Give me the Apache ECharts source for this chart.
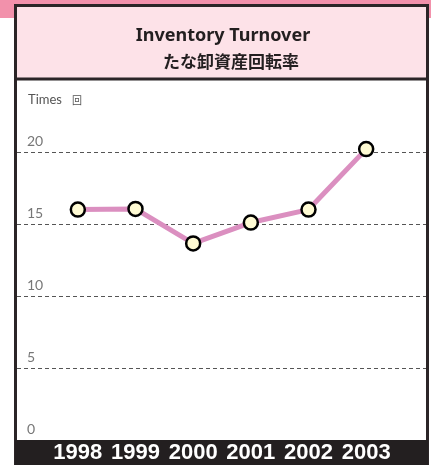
<!DOCTYPE html>
<html>
<head>
<meta charset="utf-8">
<script src="https://cdn.jsdelivr.net/npm/echarts@6/dist/echarts.min.js"></script>
<style>html,body{margin:0;padding:0;background:#fff;}#c{width:431px;height:465px;}</style>
</head>
<body>
<div id="c"></div>
<script>
const years = ['1998', '1999', '2000', '2001', '2002', '2003'];
const turnover = [16.0, 16.05, 13.65, 15.1, 16.0, 20.2];
const yTicks = { min: 0, max: 20, interval: 5 };
const titleEn = 'Inventory Turnover';
const titleJa = 'たな卸資産回転率';
const unitLabel = 'Times';
const unitJa = '回';

const chart = echarts.init(document.getElementById('c'), null, { renderer: 'canvas' });
chart.setOption({
  animation: false,
  backgroundColor: '#ffffff',
  graphic: [
    { type: 'rect', z: -20, shape: { x: 0, y: 0, width: 431, height: 18 }, style: { fill: '#f291ab' } },
    { type: 'rect', z: -19, shape: { x: 15.5, y: 5.5, width: 412, height: 462 }, style: { fill: '#ffffff', stroke: '#2b2527', lineWidth: 3 } },
    { type: 'rect', z: -18, shape: { x: 17, y: 7, width: 409, height: 71 }, style: { fill: '#fde2e8' } },
    { type: 'rect', z: -18, shape: { x: 15, y: 77.5, width: 413, height: 3 }, style: { fill: '#2b2527' } },
    { type: 'rect', z: 1, shape: { x: 15, y: 440, width: 413, height: 25 }, style: { fill: '#231f20' } }
  ],
  title: [
    { text: titleEn, left: 218, top: 22, textAlign: 'center',
      textStyle: { fontFamily: 'Noto Sans', fontSize: 18, fontWeight: 'bold', color: '#231f20' } },
    { text: titleJa, left: 226, top: 48, textAlign: 'center',
      textStyle: { fontFamily: 'Noto Sans CJK JP', fontSize: 17, fontWeight: 'bold', color: '#231f20' } },
    { text: '{a|' + unitLabel + '}  {b|' + unitJa + '}', left: 23, top: 86,
      textStyle: { fontWeight: 'normal', rich: {
        a: { fontFamily: 'Lato', fontSize: 13, fontWeight: 'normal', color: '#555' },
        b: { fontFamily: 'Noto Sans CJK JP', fontSize: 10, fontWeight: 'normal', color: '#555' } } } }
  ],
  grid: [
    { left: 49, width: 346, top: 152, bottom: 25 },
    { left: 17, right: 5, top: 152, bottom: 25 }
  ],
  xAxis: [
    { type: 'category', gridIndex: 0, data: years, boundaryGap: true, z: 10,
      axisLine: { show: false }, axisTick: { show: false }, splitLine: { show: false },
      axisLabel: { interval: 0, margin: 2, color: '#ffffff', fontFamily: 'Liberation Sans', fontWeight: 'bold', fontSize: 22 } },
    { type: 'value', gridIndex: 1, show: false }
  ],
  yAxis: [
    { type: 'value', gridIndex: 0, min: yTicks.min, max: yTicks.max, interval: yTicks.interval, show: false },
    { type: 'value', gridIndex: 1, min: yTicks.min, max: yTicks.max, interval: yTicks.interval,
      axisLine: { show: false }, axisTick: { show: false },
      splitLine: { show: true, lineStyle: { color: '#555', width: 1, type: [4, 3] } },
      axisLabel: { inside: true, margin: 10, verticalAlign: 'bottom', padding: [0, 0, 4, 0],
        fontFamily: 'Lato', fontSize: 14, color: '#777' } }
  ],
  series: [{
    type: 'line', xAxisIndex: 0, yAxisIndex: 0, data: turnover, clip: false, z: 5,
    lineStyle: { color: '#db8fc0', width: 5 },
    symbol: 'circle', symbolSize: 14,
    itemStyle: { color: '#fffbd4', borderColor: '#000', borderWidth: 2.5 }
  }]
});
</script>
</body>
</html>
